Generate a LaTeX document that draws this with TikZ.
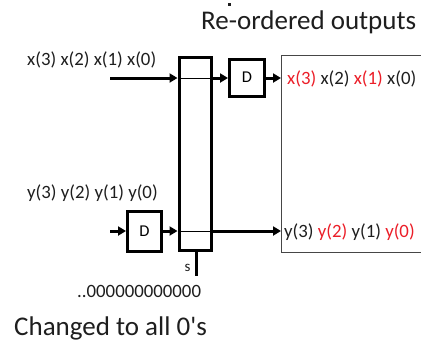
\documentclass[tikz,border=0pt]{standalone}
\usepackage{fontspec}
\setmainfont{Carlito}
\usetikzlibrary{arrows.meta}
\definecolor{txt}{RGB}{30,30,30}
\definecolor{redtxt}{RGB}{235,30,40}
\definecolor{boxgray}{RGB}{70,70,70}
\begin{document}
\begin{tikzpicture}[x=1pt,y=-1pt,
  thick line/.style={line width=3pt},
  thin line/.style={line width=0.9pt},
  arr/.style={thick line,-{Triangle[length=8pt,width=9pt]}},
  blk/.style={draw,thick line,rectangle,inner sep=0pt},
  lbl/.style={anchor=base west,inner sep=0pt,text=txt,font=\fontsize{18.8}{20}\selectfont},
  big/.style={anchor=base west,inner sep=0pt,text=txt,font=\fontsize{27}{30}\selectfont},
  rd/.style={text=redtxt}]
\useasboundingbox (0,0) rectangle (421,341);
\fill[txt] (228,3) rectangle (231,5.5);
% blocks
\node[blk,minimum width=32.5pt,minimum height=193.5pt] (mux) at (195.25,153.75) {};
\node[blk,minimum width=35pt,minimum height=37pt,font=\fontsize{16.5}{18}\selectfont] (dtop) at (247,77.5) {D};
\node[blk,minimum width=34pt,minimum height=39.5pt,font=\fontsize{16.5}{18}\selectfont] (dbot) at (144.5,231.25) {D};
\draw[boxgray,thin line] (425,55.5) -- (281,55.5) -- (281,252) -- (425,252);
\coordinate (outtop) at (281,78);
\coordinate (outbot) at (281,231);
% labels
\node[big] (title) at (201,29) {Re-ordered outputs};
\node[lbl] (xin) at (27,65) {x(3) x(2) x(1) x(0)};
\node[lbl] (yin) at (27,198) {y(3) y(2) y(1) y(0)};
\node[lbl] (xout) at (287,84) {\textcolor{redtxt}{x(3)} x(2) \textcolor{redtxt}{x(1)} x(0)};
\node[lbl] (yout) at (284,237) {y(3) \textcolor{redtxt}{y(2)} y(1) \textcolor{redtxt}{y(0)}};
\node[lbl] (zeros) at (77,297) {..000000000000};
\node[big] (chg) at (14,335) {Changed to all 0\textquotesingle s};
\node[anchor=base,inner sep=0pt,text=txt,font=\fontsize{15}{16}\selectfont] (s) at (187.5,271) {s};
% top path
\coordinate (xstart) at (110,78);
\draw[arr] (xstart) -- (mux.west |- xstart);
\draw[thin line] (mux.west |- xstart) -- (mux.east |- xstart);
\draw[arr] (mux.east |- xstart) -- (dtop.west |- xstart);
\draw[arr] (dtop.east |- xstart) -- (outtop);
% bottom path
\coordinate (ystart) at (110,231);
\draw[arr] (ystart) -- (dbot.west |- ystart);
\draw[arr] (dbot.east |- ystart) -- (mux.west |- ystart);
\draw[thin line] (mux.west |- ystart) -- (mux.east |- ystart);
\draw[arr] (mux.east |- ystart) -- (outbot);
% select
\coordinate (sbot) at (196,276);
\draw[thick line] (mux.south -| sbot) -- (sbot);
\end{tikzpicture}
\end{document}
